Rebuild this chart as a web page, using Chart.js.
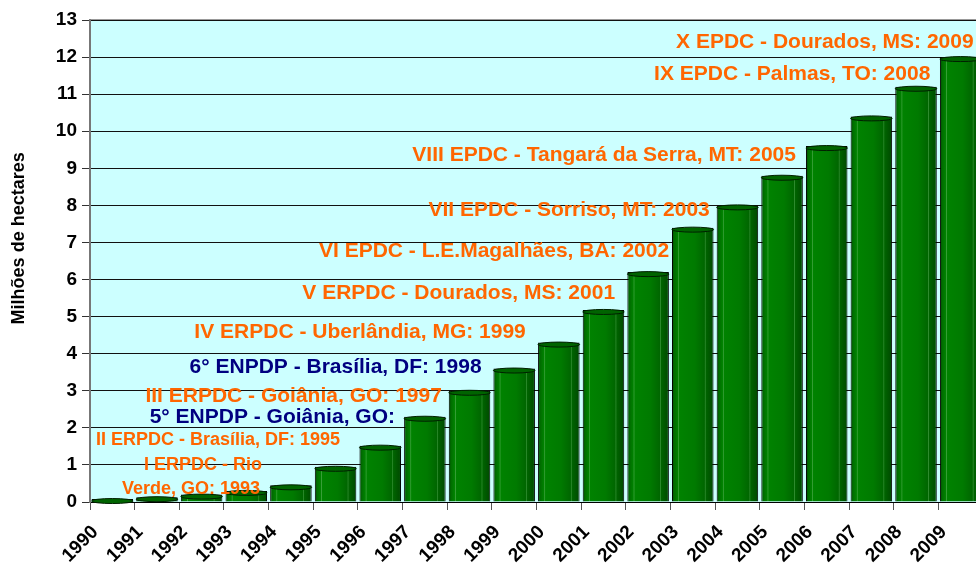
<!DOCTYPE html>
<html>
<head>
<meta charset="utf-8">
<script src="https://cdn.jsdelivr.net/npm/chart.js@4.4.1/dist/chart.umd.min.js"></script>
<style>
    html, body { margin: 0; padding: 0; background: #fff; overflow: hidden; }
    canvas { display: block; }
</style>
</head>
<body>
<canvas id="areaChart" width="983" height="563"></canvas>
<script>
// Área (milhões de hectares) por ano
const years = ['1990', '1991', '1992', '1993', '1994', '1995', '1996', '1997', '1998', '1999',
               '2000', '2001', '2002', '2003', '2004', '2005', '2006', '2007', '2008', '2009'];
const area = [0.08, 0.13, 0.2, 0.3, 0.45, 0.95, 1.52, 2.3, 3.0, 3.6,
              4.3, 5.18, 6.2, 7.4, 8.0, 8.8, 9.6, 10.4, 11.2, 12.0];
const yTickValues = [0, 1, 2, 3, 4, 5, 6, 7, 8, 9, 10, 11, 12, 13];
const yTitle = 'Milhões de hectares';

// Encontros (texto do evento)
const events = [
    'X EPDC - Dourados, MS: 2009',
    'IX EPDC - Palmas, TO: 2008',
    'VIII EPDC - Tangará da Serra, MT: 2005',
    'VII EPDC - Sorriso, MT: 2003',
    'VI EPDC - L.E.Magalhães, BA: 2002',
    'V ERPDC - Dourados, MS: 2001',
    'IV ERPDC - Uberlândia, MG: 1999',
    '6° ENPDP - Brasília, DF: 1998',
    'III ERPDC - Goiânia, GO: 1997',
    '5° ENPDP - Goiânia, GO:',
    'II ERPDC - Brasília, DF: 1995',
    'I ERPDC - Rio',
    'Verde, GO: 1993'
];

// layout dos textos: [posição na escala x (índice), posição na escala y, tamanho, cor]
const ORANGE = '#ff6600';
const NAVY = '#000080';
const eventLayout = [
    [19.29, 12.40, 21, ORANGE],
    [18.32, 11.53, 21, ORANGE],
    [15.31, 9.36, 21, ORANGE],
    [13.38, 7.86, 21, ORANGE],
    [12.47, 6.77, 21, ORANGE],
    [11.26, 5.64, 21, ORANGE],
    [9.26, 4.57, 21, ORANGE],
    [8.27, 3.64, 21, NAVY],
    [7.38, 2.85, 21, ORANGE],
    [6.33, 2.29, 21, NAVY],
    [5.10, 1.66, 18, ORANGE],
    [3.35, 0.99, 18, ORANGE],
    [3.31, 0.36, 18, ORANGE]
];

const FONT = "'Liberation Sans', Arial, sans-serif";

function barGradient(context) {
    const chart = context.chart;
    const xs = chart.scales.x;
    if (!chart.chartArea || !xs) return '#007a00';
    const cx = xs.getPixelForValue(context.dataIndex);
    const w = xs.width / years.length * 0.93;
    const g = chart.ctx.createLinearGradient(cx - w / 2, 0, cx + w / 2, 0);
    g.addColorStop(0, '#004d00');
    g.addColorStop(0.06, '#006e00');
    g.addColorStop(0.14, '#008200');
    g.addColorStop(0.16, '#3aa03a');
    g.addColorStop(0.18, '#008200');
    g.addColorStop(0.55, '#007a00');
    g.addColorStop(0.78, '#006600');
    g.addColorStop(0.8, '#2f8c2f');
    g.addColorStop(0.82, '#006400');
    g.addColorStop(1, '#004800');
    return g;
}

const plotBackground = {
    id: 'plotBackground',
    beforeDraw(chart) {
        const { ctx, chartArea: a } = chart;
        ctx.save();
        ctx.fillStyle = '#ccffff';
        ctx.fillRect(a.left, a.top, a.right - a.left, a.bottom - a.top);
        ctx.strokeStyle = '#999';
        ctx.lineWidth = 2;
        ctx.beginPath();
        ctx.moveTo(a.left, a.top);
        ctx.lineTo(a.right, a.top);
        ctx.stroke();
        ctx.restore();
    }
};

const cylinderTops = {
    id: 'cylinderTops',
    afterDatasetsDraw(chart) {
        const ctx = chart.ctx;
        ctx.save();
        chart.getDatasetMeta(0).data.forEach(bar => {
            const rx = bar.width / 2;
            ctx.beginPath();
            ctx.ellipse(bar.x, bar.y + 2, rx, 2.5, 0, 0, Math.PI * 2);
            ctx.fillStyle = '#006400';
            ctx.fill();
            ctx.lineWidth = 1;
            ctx.strokeStyle = '#002000';
            ctx.stroke();
        });
        ctx.restore();
    }
};

const eventLabels = {
    id: 'eventLabels',
    afterDatasetsDraw(chart) {
        const { ctx, scales: { x, y }, chartArea: a } = chart;
        ctx.save();
        ctx.textAlign = 'right';
        ctx.textBaseline = 'middle';
        events.forEach((text, i) => {
            const [xv, yv, size, color] = eventLayout[i];
            ctx.font = `bold ${size}px ${FONT}`;
            ctx.fillStyle = color;
            ctx.fillText(text, x.getPixelForValue(xv), y.getPixelForValue(yv));
        });

        // título do eixo y
        ctx.translate(a.left - 71, a.top + (a.bottom - a.top) * 0.453);
        ctx.rotate(-Math.PI / 2);
        ctx.textAlign = 'center';
        ctx.font = `bold 18px ${FONT}`;
        ctx.fillStyle = '#000';
        ctx.fillText(yTitle, 0, 0);
        ctx.restore();
    }
};

new Chart(document.getElementById('areaChart'), {
    type: 'bar',
    data: {
        labels: years,
        datasets: [{
            data: area,
            backgroundColor: barGradient,
            borderColor: '#000',
            borderWidth: 1,
            barPercentage: 0.93,
            categoryPercentage: 1
        }]
    },
    options: {
        responsive: false,
        animation: false,
        layout: { padding: { top: 20, left: 0, right: 0, bottom: 0 } },
        plugins: {
            legend: { display: false },
            tooltip: { enabled: false }
        },
        scales: {
            x: {
                offset: true,
                grid: {
                    offset: true,
                    drawOnChartArea: false,
                    tickLength: 8,
                    color: '#555'
                },
                border: { color: '#000', width: 1 },
                ticks: {
                    color: '#000',
                    font: { family: FONT, size: 19, weight: 'bold' },
                    minRotation: 45,
                    maxRotation: 45,
                    autoSkip: false,
                    labelOffset: -17,
                    padding: 11
                },
                afterFit(scale) {
                    scale.height = 61;
                    scale.paddingLeft = 0;
                    scale.paddingRight = 0;
                }
            },
            y: {
                min: 0,
                max: 13,
                afterBuildTicks(scale) {
                    scale.ticks = yTickValues.map(v => ({ value: v }));
                },
                grid: {
                    color: '#111',
                    lineWidth: 1,
                    tickLength: 8,
                    tickColor: '#333'
                },
                border: { color: '#777', width: 2 },
                ticks: {
                    color: '#000',
                    font: { family: FONT, size: 19, weight: 'bold' },
                    padding: 5
                },
                afterFit(scale) {
                    scale.width = 90;
                }
            }
        }
    },
    plugins: [plotBackground, cylinderTops, eventLabels]
});
</script>
</body>
</html>
